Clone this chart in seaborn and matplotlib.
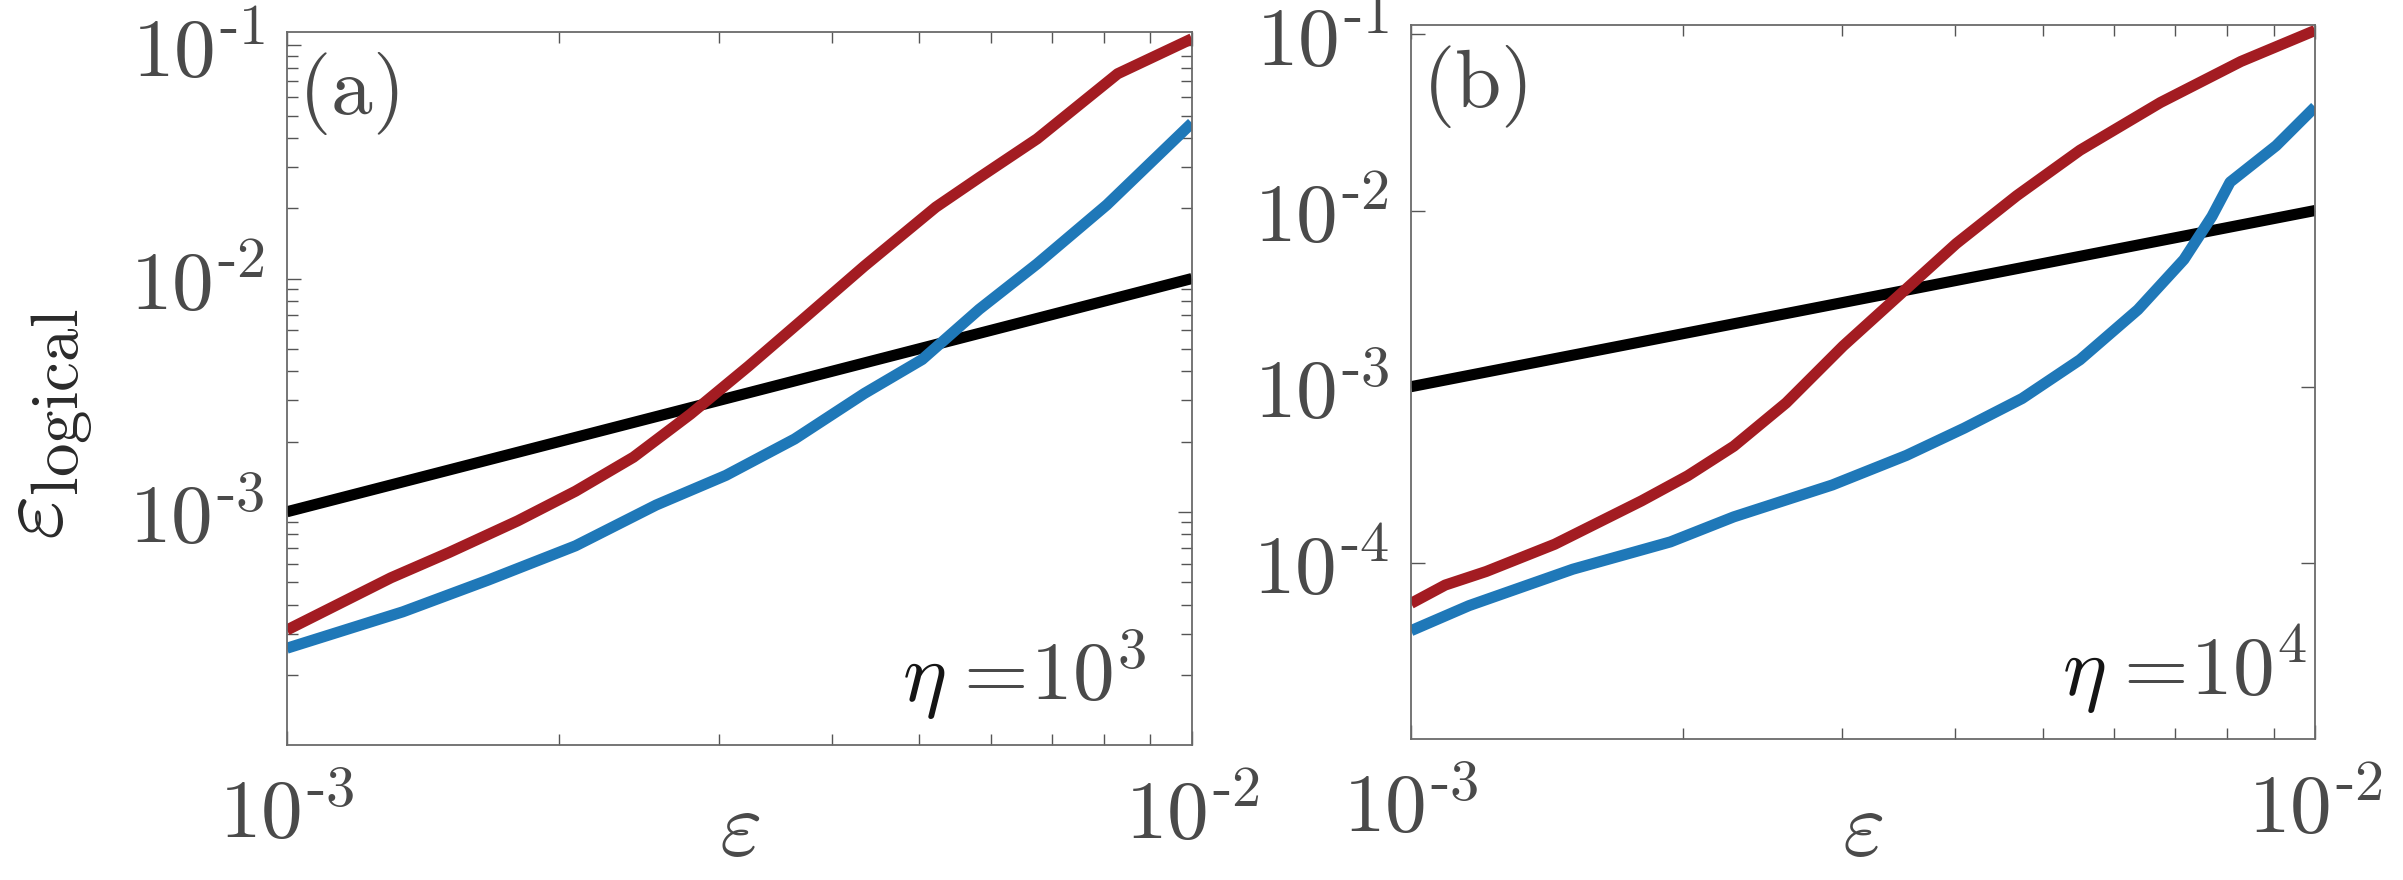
import numpy as np
import pandas as pd
import matplotlib
matplotlib.use('Agg')
import matplotlib.pyplot as plt
from matplotlib.ticker import NullFormatter
import seaborn as sns

# data (log-log axes)
black_x = [1e-3, 1e-2]
black_y = [1e-3, 1e-2]

# panel (a), eta = 10^3
red_a_x = [1.000e-3, 1.303e-3, 1.510e-3, 1.799e-3, 2.084e-3, 2.415e-3, 2.793e-3, 3.236e-3,
           3.750e-3, 4.345e-3, 5.212e-3, 5.821e-3, 6.745e-3, 8.279e-3, 1.000e-2]
red_a_y = [3.112e-4, 5.212e-4, 6.683e-4, 9.141e-4, 1.225e-3, 1.714e-3, 2.624e-3, 4.207e-3,
           6.887e-3, 1.130e-2, 2.023e-2, 2.710e-2, 3.972e-2, 7.551e-2, 1.067e-1]
blue_a_x = [1.000e-3, 1.159e-3, 1.343e-3, 1.671e-3, 2.084e-3, 2.559e-3, 3.055e-3, 3.639e-3,
            4.345e-3, 5.035e-3, 5.821e-3, 6.745e-3, 8.054e-3, 1.000e-2]
blue_a_y = [2.600e-4, 3.112e-4, 3.724e-4, 5.105e-4, 7.145e-4, 1.069e-3, 1.432e-3, 2.051e-3,
            3.214e-3, 4.498e-3, 7.379e-3, 1.156e-2, 2.070e-2, 4.645e-2]

# panel (b), eta = 10^4
red_b_x = [1.000e-3, 1.091e-3, 1.211e-3, 1.442e-3, 1.799e-3, 2.023e-3, 2.275e-3, 2.600e-3,
           3.006e-3, 3.483e-3, 4.009e-3, 4.677e-3, 5.495e-3, 6.745e-3, 8.279e-3, 1.000e-2]
red_b_y = [5.888e-5, 7.482e-5, 8.933e-5, 1.276e-4, 2.249e-4, 3.119e-4, 4.592e-4, 8.091e-4,
           1.702e-3, 3.373e-3, 6.486e-3, 1.213e-2, 2.198e-2, 4.102e-2, 7.015e-2, 1.052e-1]
blue_b_x = [1.000e-3, 1.159e-3, 1.510e-3, 1.936e-3, 2.275e-3, 2.924e-3, 3.532e-3, 4.093e-3,
            4.742e-3, 5.495e-3, 6.368e-3, 7.161e-3, 7.691e-3, 8.054e-3, 9.057e-3, 1.000e-2]
blue_b_y = [4.121e-5, 5.715e-5, 9.204e-5, 1.315e-4, 1.824e-4, 2.767e-4, 4.074e-4, 5.821e-4,
            8.570e-4, 1.422e-3, 2.735e-3, 5.272e-3, 9.268e-3, 1.449e-2, 2.333e-2, 3.873e-2]

panel_tags = ['a', 'b']
eta_labels = [r'$=\!10^3$', r'$=\!10^4$']
ylims = [(1e-4, 0.114), (1e-5, 0.113)]
yticks = [[1e-3, 1e-2, 1e-1], [1e-4, 1e-3, 1e-2, 1e-1]]
ytick_labels = [[r'$10^{\text{-}3}$', r'$10^{\text{-}2}$', r'$10^{\text{-}1}$'],
                [r'$10^{\text{-}4}$', r'$10^{\text{-}3}$', r'$10^{\text{-}2}$', r'$10^{\text{-}1}$']]
xticks = [1e-3, 1e-2]
xtick_labels = [r'$10^{\text{-}3}$', r'$10^{\text{-}2}$']

RED = '#A31C22'
BLUE = '#1F78B8'
GRAY = '#4A4A4A'

sns.set_style('ticks')
plt.rcParams['mathtext.fontset'] = 'cm'
plt.rcParams['font.family'] = ['DejaVu Serif']

fig = plt.figure(figsize=(24.03, 8.8), dpi=100)
ax1 = fig.add_axes([0.1194, 0.1534, 0.3766, 0.8102])
ax2 = fig.add_axes([0.5872, 0.1602, 0.3762, 0.8114])
axes = [ax1, ax2]

series = [
    (red_a_x, red_a_y, blue_a_x, blue_a_y),
    (red_b_x, red_b_y, blue_b_x, blue_b_y),
]
eta_pos = [0.728, 0.768]
xlabel_y = [-0.154, -0.162]

lw = 8
for i, ax in enumerate(axes):
    rx, ry, bx, by = series[i]
    sns.lineplot(x=black_x, y=black_y, ax=ax, color='black', lw=lw,
                 estimator=None, sort=False, solid_capstyle='butt')
    sns.lineplot(x=rx, y=ry, ax=ax, color=RED, lw=lw,
                 estimator=None, sort=False, solid_capstyle='butt')
    sns.lineplot(x=bx, y=by, ax=ax, color=BLUE, lw=lw,
                 estimator=None, sort=False, solid_capstyle='butt')
    ax.set_xscale('log')
    ax.set_yscale('log')
    ax.set_xlim(1e-3, 1e-2)
    ax.set_ylim(*ylims[i])
    ax.set_xticks(xticks, labels=xtick_labels)
    ax.set_yticks(yticks[i], labels=ytick_labels[i])
    ax.xaxis.set_minor_formatter(NullFormatter())
    ax.yaxis.set_minor_formatter(NullFormatter())
    ax.tick_params(which='both', direction='in', top=True, right=True,
                   colors='#555555', labelcolor=GRAY, labelsize=60, width=1.0)
    ax.tick_params(which='major', length=10)
    ax.tick_params(which='minor', length=8)
    ax.tick_params(axis='y', pad=16)
    ax.tick_params(axis='x', pad=22)
    for sp in ax.spines.values():
        sp.set_color('#6a6a6a')
        sp.set_linewidth(1.3)
    ax.set_xlabel(r'$\varepsilon$', fontsize=66, color=GRAY)
    ax.xaxis.label.set_verticalalignment('baseline')
    ax.xaxis.set_label_coords(0.5, xlabel_y[i])
    ax.text(0.012, 0.975, r'$(\mathrm{' + panel_tags[i] + '})$', transform=ax.transAxes,
            fontsize=60, color=GRAY, ha='left', va='top')
    ax.text(eta_pos[i], 0.062, r'$\eta$', transform=ax.transAxes,
            fontsize=60, color='#151515', ha='right', va='baseline')
    ax.text(eta_pos[i] + 0.004, 0.062, eta_labels[i], transform=ax.transAxes,
            fontsize=60, color=GRAY, ha='left', va='baseline')

ax1.set_ylabel(r'$\varepsilon_{\mathrm{logical}}$', fontsize=69, color='#2a2a2a')
ax1.yaxis.set_label_coords(-0.212, 0.45)

fig.savefig('out.png', dpi=100, facecolor='white')
